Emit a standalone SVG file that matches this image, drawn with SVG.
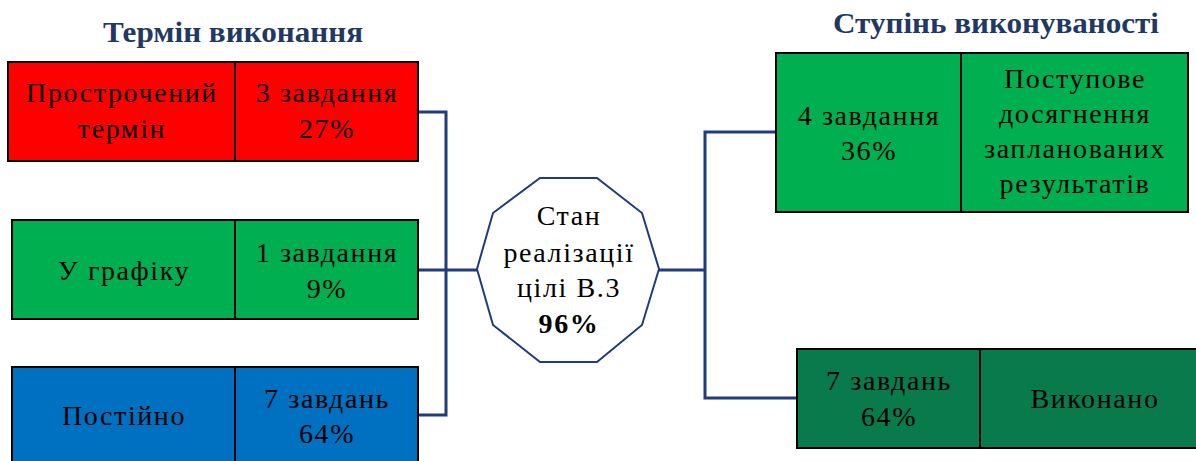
<svg xmlns="http://www.w3.org/2000/svg" width="1196" height="461" viewBox="0 0 1196 461">
<style>
.t{font-family:"Liberation Serif","DejaVu Serif",serif;font-size:28px;letter-spacing:1.6px;fill:#000;text-anchor:middle}
.h{font-family:"Liberation Serif","DejaVu Serif",serif;font-size:30px;font-weight:bold;fill:#1F3864;text-anchor:middle}
.box{stroke:#000;stroke-width:2}
.div{stroke:#000;stroke-width:2}
.c{fill:none;stroke:#1F3C7E;stroke-width:3}
</style>
<rect width="1196" height="461" fill="#fff"/>
<text class="h" x="233" y="42" textLength="260" lengthAdjust="spacingAndGlyphs">Термін виконання</text>
<text class="h" x="996" y="33" textLength="326" lengthAdjust="spacingAndGlyphs">Ступінь виконуваності</text>
<g id="connectors">
<polyline class="c" points="418,112 446,112 446,415 418,415"/>
<line class="c" x1="418" y1="270" x2="478" y2="270"/>
<line class="c" x1="659" y1="270" x2="706" y2="270"/>
<polyline class="c" points="777,132 705,132 705,398 797,398"/>
</g>
<g id="n-overdue">
<rect class="box" x="8" y="62" width="410" height="99" fill="#FF0000"/>
<line class="div" x1="235" y1="62" x2="235" y2="161"/>
<text class="t" x="122" y="102">Прострочений</text>
<text class="t" x="122" y="138">термін</text>
<text class="t" x="327" y="102">3 завдання</text>
<text class="t" x="327" y="138">27%</text>
</g>
<g id="n-schedule">
<rect class="box" x="12" y="220" width="406" height="99" fill="#00B050"/>
<line class="div" x1="235" y1="220" x2="235" y2="319"/>
<text class="t" x="124" y="280">У графіку</text>
<text class="t" x="327" y="262">1 завдання</text>
<text class="t" x="327" y="298">9%</text>
</g>
<g id="n-constant">
<rect class="box" x="12" y="367" width="406" height="100" fill="#0070C0"/>
<line class="div" x1="235" y1="367" x2="235" y2="467"/>
<text class="t" x="124" y="425">Постійно</text>
<text class="t" x="327" y="408">7 завдань</text>
<text class="t" x="327" y="443">64%</text>
</g>
<g id="n-center">
<polygon points="540,178 597,178 642,213 659,269 642,325 597,362 540,362 493,325 477,269 493,213" fill="#fff" stroke="#1F3C7E" stroke-width="2"/>
<text class="t" x="569" y="225">Стан</text>
<text class="t" x="569" y="262">реалізації</text>
<text class="t" x="569" y="297">цілі В.3</text>
<text class="t" x="569" y="333" font-weight="bold">96%</text>
</g>
<g id="n-gradual">
<rect class="box" x="776" y="53" width="412" height="159" fill="#00B050"/>
<line class="div" x1="961" y1="53" x2="961" y2="212"/>
<text class="t" x="869" y="125">4 завдання</text>
<text class="t" x="869" y="160">36%</text>
<text class="t" x="1075" y="88">Поступове</text>
<text class="t" x="1075" y="123">досягнення</text>
<text class="t" x="1075" y="158">запланованих</text>
<text class="t" x="1075" y="193">результатів</text>
</g>
<g id="n-done">
<rect class="box" x="797" y="349" width="410" height="99" fill="#097A4C"/>
<line class="div" x1="980" y1="349" x2="980" y2="448"/>
<text class="t" x="889" y="390">7 завдань</text>
<text class="t" x="889" y="426">64%</text>
<text class="t" x="1095" y="408">Виконано</text>
</g>
</svg>
